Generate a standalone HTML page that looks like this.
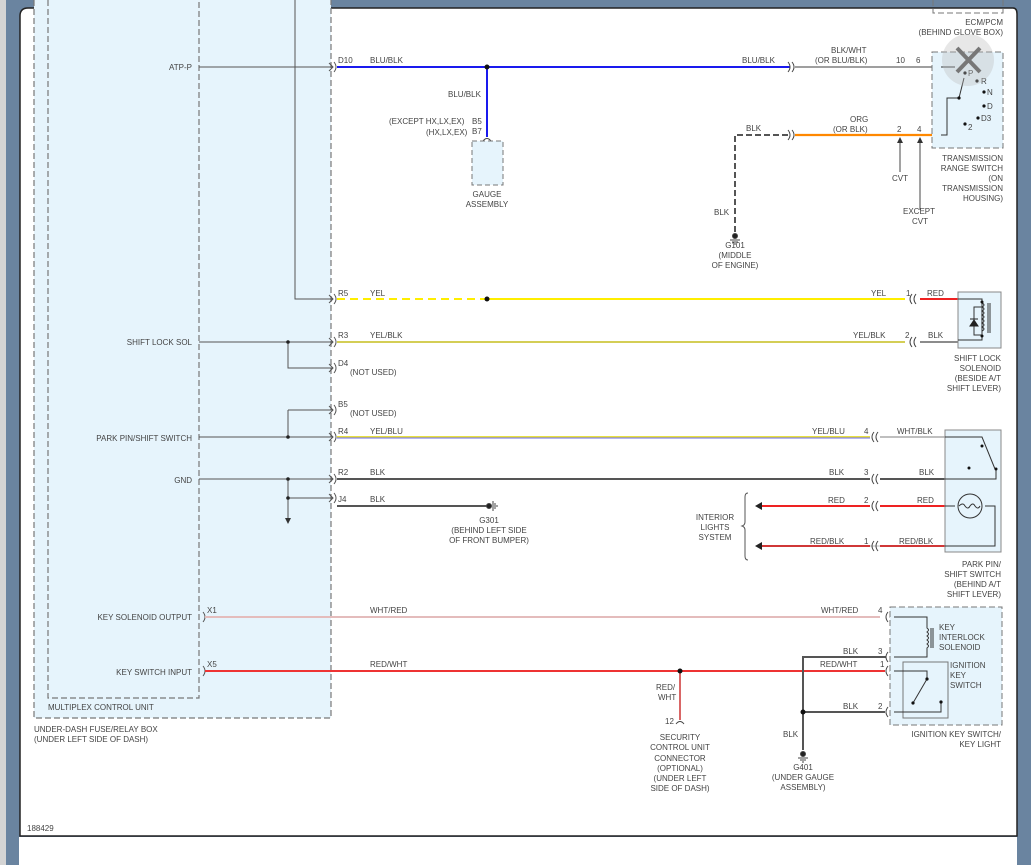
<!DOCTYPE html>
<html><head><meta charset="utf-8"><style>
html,body{margin:0;padding:0;width:1031px;height:865px;overflow:hidden;background:#fff}
svg{display:block}
text{font-family:"Liberation Sans",sans-serif;font-size:8px;fill:#444}
</style></head><body>
<svg width="1031" height="865" viewBox="0 0 1031 865">
<!-- frame -->
<rect x="0" y="0" width="1031" height="865" fill="#6a84a0"/>
<rect x="0" y="0" width="6" height="865" fill="#d4d4d4"/>
<rect x="19" y="837" width="998" height="28" fill="#fff"/>
<path d="M20,836 L20,16 Q20,8 28,8 L1013,8 Q1017,8 1017,14 L1017,836 Z" fill="#fff" stroke="#222" stroke-width="1.5"/>

<!-- fuse box -->
<rect x="34" y="0" width="297" height="718" fill="#e6f4fc"/>
<path d="M34,0 V718 H331 V0" fill="none" stroke="#777" stroke-width="1.2" stroke-dasharray="6,3"/>
<path d="M48,0 V698 H199 V0" fill="none" stroke="#777" stroke-width="1.2" stroke-dasharray="6,3"/>
<text x="48" y="710">MULTIPLEX CONTROL UNIT</text>
<text x="34" y="732">UNDER-DASH FUSE/RELAY BOX</text>
<text x="34" y="742">(UNDER LEFT SIDE OF DASH)</text>
<text x="27" y="831">188429</text>

<g text-anchor="end">
<text x="192" y="70">ATP-P</text>
<text x="192" y="345">SHIFT LOCK SOL</text>
<text x="192" y="441">PARK PIN/SHIFT SWITCH</text>
<text x="192" y="483">GND</text>
<text x="192" y="620">KEY SOLENOID OUTPUT</text>
<text x="192" y="675">KEY SWITCH INPUT</text>
</g>

<!-- internal lines -->
<g stroke="#555" stroke-width="1" fill="none">
<path d="M199,67 H333"/>
<path d="M295,0 V299 H333"/>
<path d="M199,342 H333 M288,342 V368 H333"/>
<path d="M288,410 H333 M288,410 V437 M199,437 H333"/>
<path d="M199,479 H333 M288,479 V520 M288,498 H333"/>
<path d="M329,63 L333,67 L329,71 M329,295 L333,299 L329,303 M329,338 L333,342 L329,346 M329,364 L333,368 L329,372 M329,406 L333,410 L329,414 M329,433 L333,437 L329,441 M329,475 L333,479 L329,483 M329,494 L333,498 L329,502"/>
<path d="M334,62 q4,5 0,10 M334,294 q4,5 0,10 M334,337 q4,5 0,10 M334,363 q4,5 0,10 M334,405 q4,5 0,10 M334,432 q4,5 0,10 M334,474 q4,5 0,10 M334,493 q4,5 0,10 M203,612 q4,5 0,10 M203,666 q4,5 0,10"/>
</g>
<path d="M285,518 L291,518 L288,524 Z" fill="#333"/>
<g fill="#222"><circle cx="288" cy="342" r="1.8"/><circle cx="288" cy="437" r="1.8"/><circle cx="288" cy="479" r="1.8"/><circle cx="288" cy="498" r="1.8"/></g>

<g font-size="7.5">
<text x="338" y="63">D10</text><text x="338" y="296">R5</text><text x="338" y="338">R3</text>
<text x="338" y="366">D4</text><text x="350" y="375">(NOT USED)</text>
<text x="338" y="407">B5</text><text x="350" y="416">(NOT USED)</text>
<text x="338" y="434">R4</text><text x="338" y="475">R2</text><text x="338" y="502">J4</text>
<text x="207" y="613">X1</text><text x="207" y="667">X5</text>
</g>

<!-- wires -->
<path d="M337,67 H790" stroke="#1a1aee" stroke-width="2"/>
<path d="M487,67 V137" stroke="#1a1aee" stroke-width="2"/>
<path d="M337,299 H487" stroke="#ffee00" stroke-width="2" stroke-dasharray="8,5"/>
<path d="M487,299 H905" stroke="#ffee00" stroke-width="2"/>
<path d="M920,299 H958" stroke="#ee2222" stroke-width="2"/>
<path d="M337,342 H905" stroke="#e8e040" stroke-width="2"/>
<path d="M337,342 H905" stroke="#999" stroke-width="0.5"/>
<path d="M920,342 H958" stroke="#666" stroke-width="1.5"/>
<path d="M337,437 H870" stroke="#e8e040" stroke-width="2"/>
<path d="M337,438 H870" stroke="#6a6aee" stroke-width="1"/>
<path d="M880,437 H945" stroke="#aaa" stroke-width="1.5"/>
<path d="M337,479 H870 M880,479 H945" stroke="#555" stroke-width="2"/>
<path d="M337,506 H487" stroke="#555" stroke-width="2"/>
<path d="M760,506 H870 M880,506 H945 M760,546 H870 M880,546 H945" stroke="#ee2222" stroke-width="2"/>
<path d="M760,546 H945" stroke="#777" stroke-width="0.5"/>
<path d="M205,617 H880" stroke="#e4bcbc" stroke-width="2"/>
<path d="M205,671 H885" stroke="#ee3333" stroke-width="2"/>
<path d="M680,671 V720" stroke="#cc3333" stroke-width="1.5"/>
<path d="M795,67 H935" stroke="#666" stroke-width="1.3"/>
<path d="M795,135 H935" stroke="#ff8800" stroke-width="2.2"/>
<path d="M735,232 V135 H788" stroke="#555" stroke-width="2" fill="none" stroke-dasharray="6,3"/>
<path d="M886,657 H803 V750 M803,712 H885" stroke="#555" stroke-width="2" fill="none"/>

<!-- connectors -->
<g stroke="#444" fill="none" stroke-width="1">
<path d="M788,62 q4,5 0,10 M792,62 q4,5 0,10 M788,130 q4,5 0,10 M792,130 q4,5 0,10"/>
<path d="M935,62 q-4,5 0,10 M941,62 L937,67 L941,72 M935,130 q-4,5 0,10 M941,130 L937,135 L941,140"/>
<path d="M912,294 q-4,5 0,10 M916,294 q-4,5 0,10 M912,337 q-4,5 0,10 M916,337 q-4,5 0,10"/>
<path d="M874,432 q-4,5 0,10 M878,432 q-4,5 0,10 M874,474 q-4,5 0,10 M878,474 q-4,5 0,10 M874,501 q-4,5 0,10 M878,501 q-4,5 0,10 M874,541 q-4,5 0,10 M878,541 q-4,5 0,10"/>
<path d="M888,612 q-4,5 0,10 M894,612 L890,617 L894,622 M888,652 q-4,5 0,10 M894,652 L890,657 L894,662 M888,666 q-4,5 0,10 M894,666 L890,671 L894,676 M888,707 q-4,5 0,10 M894,707 L890,712 L894,717"/>
<path d="M483,141 q4,-5 8,0 M676,724 q4,-5 8,0"/>
<path d="M900,172 V142 M920,210 V142"/>
</g>
<path d="M897,143 L903,143 L900,137Z M917,143 L923,143 L920,137Z" fill="#333"/>
<path d="M755,506 L762,502 L762,510Z M755,546 L762,542 L762,550Z" fill="#222"/>
<g fill="#111"><circle cx="487" cy="67" r="2.5"/><circle cx="487" cy="299" r="2.5"/><circle cx="680" cy="671" r="2.5"/><circle cx="803" cy="712" r="2.5"/></g>

<!-- grounds -->
<g fill="#222" stroke="#444"><circle cx="735" cy="236" r="2.5"/><path d="M730,240 H740 M732,242 H738 M734,244 H736" fill="none"/>
<circle cx="803" cy="754" r="2.5"/><path d="M798,758 H808 M800,760 H806 M802,762 H804" fill="none"/>
<circle cx="489" cy="506" r="2.5"/><path d="M493,501 V511 M495,503 V509 M497,505 V507" fill="none"/></g>

<!-- wire labels -->
<g font-size="7.5">
<text x="370" y="63">BLU/BLK</text><text x="742" y="63">BLU/BLK</text>
<text x="831" y="53">BLK/WHT</text><text x="815" y="63">(OR BLU/BLK)</text>
<text x="896" y="63">10</text><text x="916" y="63">6</text>
<text x="448" y="97">BLU/BLK</text>
<text x="389" y="124">(EXCEPT HX,LX,EX)</text><text x="472" y="124">B5</text>
<text x="426" y="135">(HX,LX,EX)</text><text x="472" y="134">B7</text>
<text x="746" y="131">BLK</text><text x="850" y="122">ORG</text><text x="833" y="132">(OR BLK)</text>
<text x="897" y="132">2</text><text x="917" y="132">4</text>
<text x="892" y="181">CVT</text><text x="903" y="214">EXCEPT</text><text x="912" y="224">CVT</text>
<text x="714" y="215">BLK</text>
<text x="370" y="296">YEL</text><text x="871" y="296">YEL</text><text x="906" y="296">1</text><text x="927" y="296">RED</text>
<text x="370" y="338">YEL/BLK</text><text x="853" y="338">YEL/BLK</text><text x="905" y="338">2</text><text x="928" y="338">BLK</text>
<text x="370" y="434">YEL/BLU</text><text x="812" y="434">YEL/BLU</text><text x="864" y="434">4</text><text x="897" y="434">WHT/BLK</text>
<text x="370" y="475">BLK</text><text x="829" y="475">BLK</text><text x="864" y="475">3</text><text x="919" y="475">BLK</text>
<text x="370" y="502">BLK</text>
<text x="828" y="503">RED</text><text x="864" y="503">2</text><text x="917" y="503">RED</text>
<text x="810" y="544">RED/BLK</text><text x="864" y="544">1</text><text x="899" y="544">RED/BLK</text>
<text x="370" y="613">WHT/RED</text><text x="821" y="613">WHT/RED</text><text x="878" y="613">4</text>
<text x="370" y="667">RED/WHT</text><text x="820" y="667">RED/WHT</text><text x="880" y="667">1</text>
<text x="843" y="654">BLK</text><text x="878" y="654">3</text>
<text x="843" y="709">BLK</text><text x="878" y="709">2</text>
<text x="783" y="737">BLK</text>
<text x="656" y="690">RED/</text><text x="658" y="700">WHT</text><text x="665" y="724">12</text>
</g>

<!-- gauge -->
<rect x="472" y="141" width="31" height="44" fill="#e6f4fc" stroke="#777" stroke-dasharray="5,3"/>
<g text-anchor="middle" font-size="7.5">
<text x="487" y="197">GAUGE</text><text x="487" y="207">ASSEMBLY</text>
<text x="735" y="248">G101</text><text x="735" y="258">(MIDDLE</text><text x="735" y="268">OF ENGINE)</text>
<text x="489" y="523">G301</text><text x="489" y="533">(BEHIND LEFT SIDE</text><text x="489" y="543">OF FRONT BUMPER)</text>
<text x="715" y="520">INTERIOR</text><text x="715" y="530">LIGHTS</text><text x="715" y="540">SYSTEM</text>
<text x="680" y="740">SECURITY</text><text x="680" y="750">CONTROL UNIT</text><text x="680" y="761">CONNECTOR</text><text x="680" y="771">(OPTIONAL)</text><text x="680" y="781">(UNDER LEFT</text><text x="680" y="791">SIDE OF DASH)</text>
<text x="803" y="770">G401</text><text x="803" y="780">(UNDER GAUGE</text><text x="803" y="790">ASSEMBLY)</text>
</g>
<g text-anchor="end" font-size="7.5">
<text x="1003" y="25">ECM/PCM</text><text x="1003" y="35">(BEHIND GLOVE BOX)</text>
<text x="1003" y="161">TRANSMISSION</text><text x="1003" y="171">RANGE SWITCH</text><text x="1003" y="181">(ON</text><text x="1003" y="191">TRANSMISSION</text><text x="1003" y="201">HOUSING)</text>
<text x="1001" y="361">SHIFT LOCK</text><text x="1001" y="371">SOLENOID</text><text x="1001" y="381">(BESIDE A/T</text><text x="1001" y="391">SHIFT LEVER)</text>
<text x="1001" y="567">PARK PIN/</text><text x="1001" y="577">SHIFT SWITCH</text><text x="1001" y="587">(BEHIND A/T</text><text x="1001" y="597">SHIFT LEVER)</text>
<text x="1001" y="737">IGNITION KEY SWITCH/</text><text x="1001" y="747">KEY LIGHT</text>
</g>

<!-- brace -->
<path d="M748,493 q-3,0 -3,4 V522 q0,3 -3,4 q3,1 3,4 V556 q0,4 3,4" stroke="#555" fill="none"/>

<!-- ECM box -->
<path d="M933,0 V13 H1003 V0" fill="none" stroke="#777" stroke-dasharray="6,3"/>
<!-- TRS box -->
<rect x="932" y="52" width="71" height="96" fill="#e6f4fc" stroke="#777" stroke-dasharray="6,3"/>
<g stroke="#333" fill="none"><path d="M941,67 H955 M941,135 H947 V98 H959 L964,78"/></g>
<g fill="#111"><circle cx="959" cy="98" r="1.6"/><circle cx="965" cy="73" r="1.6"/><circle cx="977" cy="81" r="1.6"/><circle cx="984" cy="92" r="1.6"/><circle cx="984" cy="106" r="1.6"/><circle cx="978" cy="118" r="1.6"/><circle cx="965" cy="124" r="1.6"/></g>
<g font-size="7.5"><text x="968" y="76">P</text><text x="981" y="84">R</text><text x="987" y="95">N</text><text x="987" y="109">D</text><text x="981" y="121">D3</text><text x="968" y="130">2</text></g>
<circle cx="968" cy="60" r="26" fill="#bbb" opacity="0.35"/>
<path d="M957,48 L980,72 M980,48 L957,72" stroke="#777" stroke-width="4"/>

<!-- shift lock solenoid -->
<rect x="958" y="292" width="43" height="56" fill="#e6f4fc" stroke="#888"/>
<g stroke="#333" fill="none"><path d="M958,299 H982 V340 H958 M982,303 q4,2 0,4 q4,2 0,4 q4,2 0,4 q4,2 0,4 q4,2 0,4 q4,2 0,4 q4,2 0,4 M988,303 V333 M990,303 V333 M982,307 H974 V335 H982"/></g>
<path d="M970,326 H978 L974,320Z M970,319 H978" fill="#222" stroke="#222"/>
<g fill="#111"><circle cx="982" cy="302" r="1.5"/><circle cx="982" cy="336" r="1.5"/></g>

<!-- park pin switch -->
<rect x="945" y="430" width="56" height="122" fill="#e6f4fc" stroke="#888"/>
<g stroke="#333" fill="none"><path d="M945,437 H982 L995,469 M945,479 H996 V469 M945,506 H955 M985,506 H995 V546 H945"/>
<circle cx="970" cy="506" r="12"/><path d="M959,506 q4,-4 6,0 q3,4 5,0 q3,-4 5,0 q3,4 5,0"/></g>
<g fill="#111"><circle cx="982" cy="446" r="1.5"/><circle cx="996" cy="469" r="1.5"/><circle cx="969" cy="468" r="1.5"/></g>

<!-- ignition box -->
<rect x="890" y="607" width="112" height="118" fill="#e6f4fc" stroke="#777" stroke-dasharray="6,3"/>
<rect x="903" y="662" width="45" height="56" fill="#e6f4fc" stroke="#777"/>
<g stroke="#333" fill="none"><path d="M894,617 H927 V628 q3,2 0,4 q3,2 0,4 q3,2 0,4 q3,2 0,4 q3,2 0,4 V657 H894 M931,628 V648 M933,628 V648 M894,671 H927 V679 L913,703 M894,712 H941 V702"/></g>
<g fill="#111"><circle cx="927" cy="679" r="1.6"/><circle cx="913" cy="703" r="1.6"/><circle cx="941" cy="702" r="1.6"/></g>
<g font-size="7.5"><text x="939" y="630">KEY</text><text x="939" y="640">INTERLOCK</text><text x="939" y="650">SOLENOID</text>
<text x="950" y="668">IGNITION</text><text x="950" y="678">KEY</text><text x="950" y="688">SWITCH</text></g>
</svg>
</body></html>
